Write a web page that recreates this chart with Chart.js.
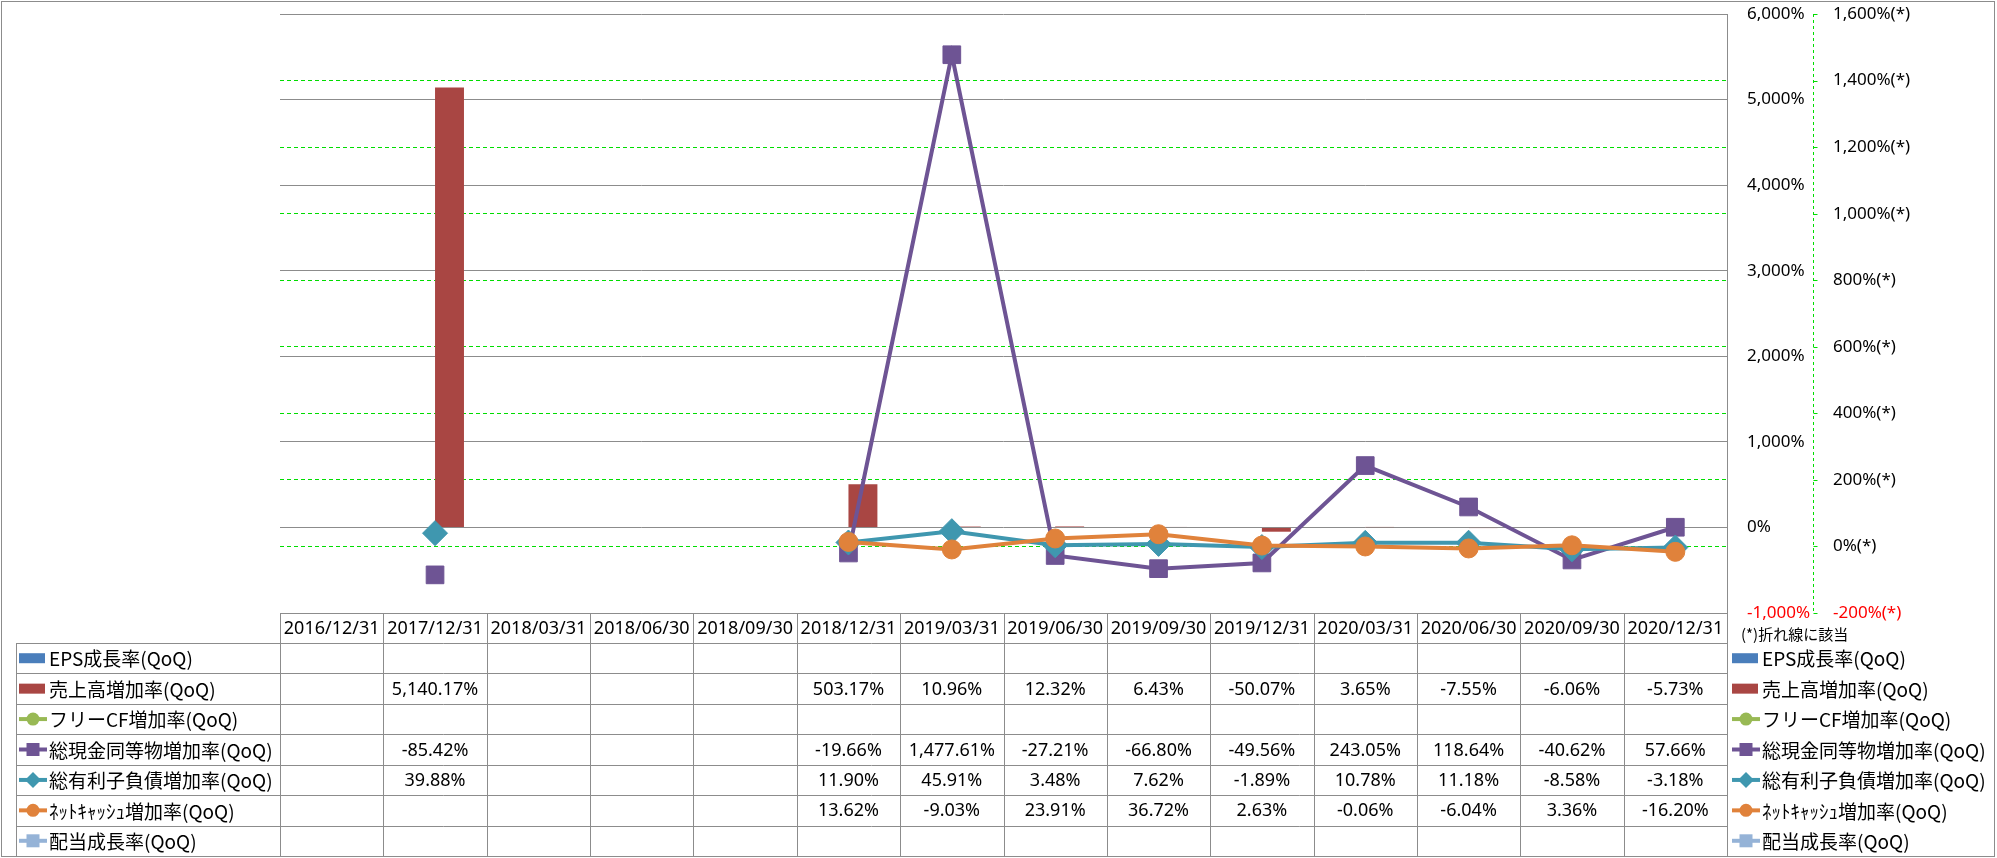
<!DOCTYPE html>
<html><head><meta charset="utf-8">
<script src="https://cdn.jsdelivr.net/npm/chart.js@4.4.1/dist/chart.umd.min.js"></script>
<style>html,body{margin:0;padding:0;background:#fff;}#wrap{width:1997px;height:858px;position:relative;}</style>
</head><body><div id="wrap"><canvas id="c" width="1997" height="858"></canvas></div>
<script>
const categories = ['2016/12/31','2017/12/31','2018/03/31','2018/06/30','2018/09/30','2018/12/31','2019/03/31','2019/06/30','2019/09/30','2019/12/31','2020/03/31','2020/06/30','2020/09/30','2020/12/31'];
const seriesNames = ['EPS成長率(QoQ)','売上高増加率(QoQ)','フリーCF増加率(QoQ)','総現金同等物増加率(QoQ)','総有利子負債増加率(QoQ)','ﾈｯﾄｷｬｯｼｭ増加率(QoQ)','配当成長率(QoQ)'];
const epsGrowth      = [null,null,null,null,null,null,null,null,null,null,null,null,null,null];
const salesGrowth    = [null,5140.17,null,null,null,503.17,10.96,12.32,6.43,-50.07,3.65,-7.55,-6.06,-5.73];
const freeCfGrowth   = [null,null,null,null,null,null,null,null,null,null,null,null,null,null];
const cashGrowth     = [null,-85.42,null,null,null,-19.66,1477.61,-27.21,-66.80,-49.56,243.05,118.64,-40.62,57.66];
const debtGrowth     = [null,39.88,null,null,null,11.90,45.91,3.48,7.62,-1.89,10.78,11.18,-8.58,-3.18];
const netCashGrowth  = [null,null,null,null,null,13.62,-9.03,23.91,36.72,2.63,-0.06,-6.04,3.36,-16.20];
const dividendGrowth = [null,null,null,null,null,null,null,null,null,null,null,null,null,null];
const primaryTicks   = [-1000,0,1000,2000,3000,4000,5000,6000];
const secondaryTicks = [-200,0,200,400,600,800,1000,1200,1400,1600];
const footnote = '(*)折れ線に該当';

const colors = ['#4A7EBB','#A94643','#98B954','#6E5494','#3F97AF','#E0823B','#95B3D7'];
const kinds = ['bar','bar','circle','rect','rectRot','circle','rect'];
const allSeries = [epsGrowth,salesGrowth,freeCfGrowth,cashGrowth,debtGrowth,netCashGrowth,dividendGrowth];

const LATIN = "'Noto Sans', 'DejaVu Sans', sans-serif";
const CJK = "'Noto Sans CJK JP', 'Noto Sans', sans-serif";
const GRID = '#8c8c8c';
const GREEN = '#00DD00';

function fmtVal(v){ return v.toLocaleString('en-US',{minimumFractionDigits:2,maximumFractionDigits:2})+'%'; }

function drawIcon(ctx, kind, color, x, y){
  ctx.save();
  if (kind === 'bar') {
    ctx.fillStyle = color;
    ctx.fillRect(x, y-5, 26, 10);
  } else {
    ctx.strokeStyle = color; ctx.lineWidth = 4;
    ctx.beginPath(); ctx.moveTo(x, y); ctx.lineTo(x+28, y); ctx.stroke();
    ctx.fillStyle = color;
    const cx = x+14;
    ctx.beginPath();
    if (kind === 'circle') ctx.arc(cx, y, 6.5, 0, Math.PI*2);
    else if (kind === 'rect') ctx.rect(cx-6.5, y-6.5, 13, 13);
    else { ctx.moveTo(cx, y-8); ctx.lineTo(cx+8, y); ctx.lineTo(cx, y+8); ctx.lineTo(cx-8, y); ctx.closePath(); }
    ctx.fill();
  }
  ctx.restore();
}

const tablePlugin = {
  id: 'tablePlugin',
  beforeDraw(chart){
    const ctx = chart.ctx;
    ctx.save(); ctx.fillStyle = '#fff'; ctx.fillRect(0,0,chart.width,chart.height); ctx.restore();
  },
  afterDraw(chart){
    const ctx = chart.ctx;
    const xs = chart.scales.x;
    const y2 = chart.scales.y2;
    const area = chart.chartArea;
    const n = categories.length;
    const colW = (area.right - area.left) / n;
    const top = area.bottom;
    const headerH = 30;
    const rowTop = top + headerH;
    const rowH = 30.43;
    const bottom = rowTop + rowH * seriesNames.length;
    const labelLeft = 16;
    ctx.save();
    // dashed secondary axis line with small outward ticks
    const ax = Math.round(y2.left) + 0.5;
    ctx.strokeStyle = GREEN; ctx.lineWidth = 1; ctx.setLineDash([3,3]);
    ctx.beginPath(); ctx.moveTo(ax, area.top); ctx.lineTo(ax, area.bottom); ctx.stroke();
    ctx.setLineDash([]);
    ctx.beginPath();
    secondaryTicks.forEach(v => { const yy = Math.round(y2.getPixelForValue(v)) + 0.5; ctx.moveTo(ax, yy); ctx.lineTo(ax + 4, yy); });
    ctx.stroke();
    // table grid
    ctx.strokeStyle = GRID; ctx.lineWidth = 1;
    ctx.beginPath();
    ctx.moveTo(area.left, Math.round(top)+0.5); ctx.lineTo(area.right, Math.round(top)+0.5);
    for (let r = 0; r <= seriesNames.length; r++) {
      const yy = Math.round(rowTop + r*rowH) + 0.5;
      ctx.moveTo(labelLeft, yy); ctx.lineTo(area.right, yy);
    }
    for (let i = 0; i <= n; i++) {
      const xx = Math.round(area.left + i*colW) + 0.5;
      ctx.moveTo(xx, top); ctx.lineTo(xx, bottom);
    }
    ctx.moveTo(labelLeft+0.5, rowTop); ctx.lineTo(labelLeft+0.5, bottom);
    ctx.stroke();
    // header dates
    ctx.fillStyle = '#000'; ctx.textAlign = 'center'; ctx.textBaseline = 'middle';
    ctx.font = '18px ' + LATIN;
    categories.forEach((c, i) => ctx.fillText(c, xs.getPixelForValue(i), top + headerH/2 + 1));
    // rows
    allSeries.forEach((arr, r) => {
      const cy = rowTop + r*rowH + rowH/2 + 1;
      ctx.font = '18px ' + LATIN; ctx.textAlign = 'center'; ctx.fillStyle = '#000';
      arr.forEach((v, i) => { if (v !== null) ctx.fillText(fmtVal(v), xs.getPixelForValue(i), cy); });
      drawIcon(ctx, kinds[r], colors[r], 19, cy-1);
      drawIcon(ctx, kinds[r], colors[r], 1732, cy-1);
      ctx.font = '19px ' + CJK; ctx.textAlign = 'left'; ctx.fillStyle = '#000';
      ctx.fillText(seriesNames[r], 49, cy);
      ctx.fillText(seriesNames[r], 1762, cy);
    });
    // footnote
    ctx.font = '15px ' + CJK; ctx.textAlign = 'left'; ctx.fillStyle = '#000';
    ctx.fillText(footnote, 1741, top + 21);
    // outer border
    ctx.strokeStyle = GRID; ctx.lineWidth = 1;
    ctx.strokeRect(1.5, 1.5, chart.width - 4, chart.height - 3);
    ctx.restore();
  }
};

const datasets = allSeries.map((arr, i) => {
  if (kinds[i] === 'bar') {
    return { type:'bar', label: seriesNames[i], data: arr, backgroundColor: colors[i], yAxisID:'y', order: 10,
             categoryPercentage: 0.56, barPercentage: 1 };
  }
  const radius = kinds[i] === 'circle' ? 9.5 : 12.5;
  return { type:'line', label: seriesNames[i], data: arr, borderColor: colors[i], backgroundColor: colors[i],
           yAxisID:'y2', order: 8 - i, borderWidth: 4, tension: 0, spanGaps: false,
           pointStyle: kinds[i], pointRadius: radius, pointHoverRadius: radius, pointBorderWidth: 1,
           pointBackgroundColor: colors[i], pointBorderColor: colors[i] };
});

new Chart(document.getElementById('c'), {
  data: { labels: categories, datasets },
  plugins: [tablePlugin],
  options: {
    responsive: false, devicePixelRatio: 1, animation: false,
    layout: { padding: { left: 280, right: 14, top: 14, bottom: 245 } },
    plugins: { legend: { display: false }, tooltip: { enabled: false } },
    scales: {
      x: { display: false, offset: true },
      y: {
        position: 'right', min: -1000, max: 6000, weight: 0,
        afterBuildTicks: s => { s.ticks = primaryTicks.map(v => ({ value: v })); },
        afterFit: s => { s.width = 86; s.paddingTop = 0; s.paddingBottom = 0; },
        grid: { color: GRID, lineWidth: 1, drawTicks: false },
        border: { display: true, color: GRID, width: 1 },
        ticks: { padding: 20, font: { family: LATIN, size: 17 },
                 color: c => c.tick && c.tick.value < 0 ? '#FF0000' : '#000',
                 callback: v => v.toLocaleString('en-US') + '%' }
      },
      y2: {
        position: 'right', min: -200, max: 1600, weight: 1,
        afterBuildTicks: s => { s.ticks = secondaryTicks.map(v => ({ value: v })); },
        afterFit: s => { s.width = 170; s.paddingTop = 0; s.paddingBottom = 0; },
        grid: { color: c => (c.tick && (c.tick.value === 1600 || c.tick.value === -200)) ? 'rgba(0,0,0,0)' : GREEN,
                lineWidth: 1, drawTicks: false },
        border: { display: false, dash: [4,3] },
        ticks: { padding: 20, font: { family: LATIN, size: 17 },
                 color: c => c.tick && c.tick.value < 0 ? '#FF0000' : '#000',
                 callback: v => v.toLocaleString('en-US') + '%(*)' }
      }
    }
  }
});
</script></body></html>
